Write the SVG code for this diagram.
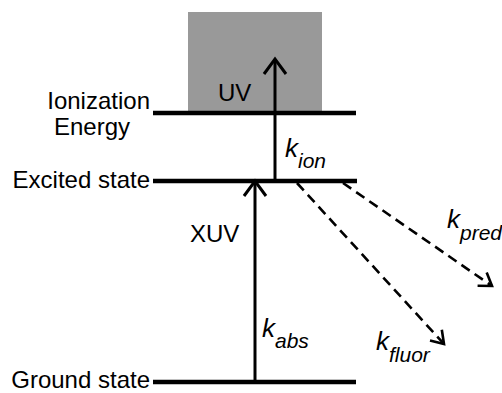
<svg xmlns="http://www.w3.org/2000/svg" width="502" height="393" viewBox="0 0 502 393">
<defs>
<style>
.lbl{font-family:"Liberation Sans",Arial,Helvetica,sans-serif;font-size:24px;fill:#000}
.it{font-style:italic;font-size:26px}
.sub{font-size:21px}
.lvl{stroke:#000;stroke-width:4.5;fill:none}
.sol{stroke:#000;stroke-width:3;fill:none}
.dsh{stroke:#000;stroke-width:2.6;fill:none;stroke-dasharray:10 6}
</style>
<marker id="ah" markerUnits="userSpaceOnUse" viewBox="-17 -13 19 26" refX="0" refY="0" markerWidth="19" markerHeight="26" orient="auto" overflow="visible">
<path d="M-15,-11 L0,0 L-15,11" fill="none" stroke="#000" stroke-width="3"/>
</marker>
<marker id="ahd" markerUnits="userSpaceOnUse" viewBox="-15 -11 17 22" refX="0" refY="0" markerWidth="17" markerHeight="22" orient="auto" overflow="visible">
<path d="M-12,-8 L0,0 L-12,8" fill="none" stroke="#000" stroke-width="2.6"/>
</marker>
</defs>
<rect x="188" y="12" width="134" height="101" fill="#999999"/>
<g id="ionization">
<line class="lvl" x1="153" y1="113" x2="356" y2="113"/>
<text class="lbl" x="150" y="109" text-anchor="end">Ionization</text>
<text class="lbl" x="130" y="135" text-anchor="end">Energy</text>
</g>
<g id="excited">
<line class="lvl" x1="153" y1="181" x2="357" y2="181"/>
<text class="lbl" x="150" y="188" text-anchor="end">Excited state</text>
</g>
<g id="ground">
<line class="lvl" x1="153" y1="382" x2="356" y2="382"/>
<text class="lbl" x="150" y="388" text-anchor="end">Ground state</text>
</g>
<g id="connectors">
<line class="sol" x1="275" y1="181" x2="275" y2="59" marker-end="url(#ah)"/>
<line class="sol" x1="255" y1="382" x2="255" y2="181" marker-end="url(#ah)"/>
<line class="dsh" x1="297" y1="183" x2="444" y2="344" marker-end="url(#ahd)"/>
<line class="dsh" x1="343" y1="183" x2="492" y2="286" marker-end="url(#ahd)"/>
</g>
<g id="labels">
<text class="lbl" x="218" y="101" font-size="25">UV</text>
<text class="lbl" x="190" y="242" font-size="26">XUV</text>
<text class="lbl it" x="285" y="157">k<tspan class="sub" dy="11">ion</tspan></text>
<text class="lbl it" x="262" y="337">k<tspan class="sub" dy="11">abs</tspan></text>
<text class="lbl it" x="376" y="350">k<tspan class="sub" dy="12">fluor</tspan></text>
<text class="lbl it" x="447" y="228">k<tspan class="sub" dy="12">pred</tspan></text>
</g>
</svg>
